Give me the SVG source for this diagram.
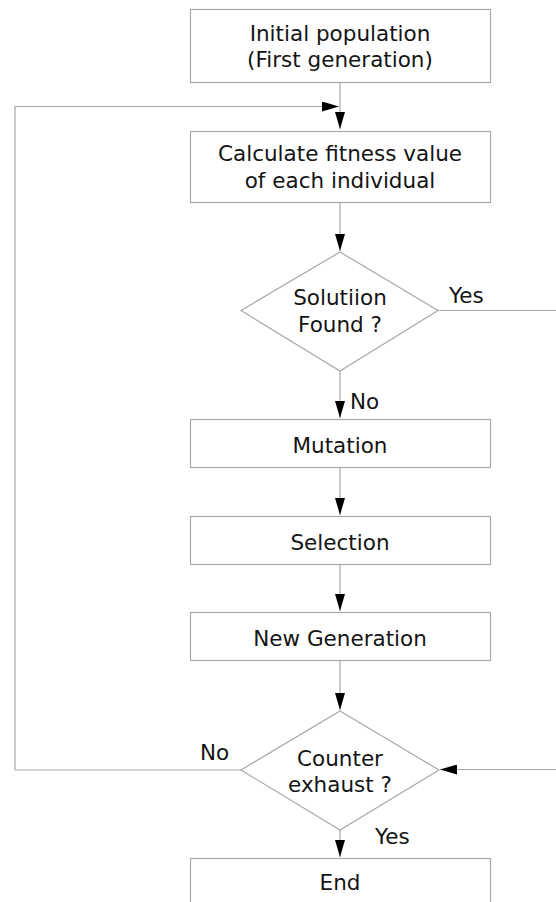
<svg xmlns="http://www.w3.org/2000/svg" width="556" height="902" viewBox="0 0 556 902">
  <style>
    .shape { fill: #ffffff; stroke: #a8a8a8; stroke-width: 1.2; }
    .wire { fill: none; stroke: #a8a8a8; stroke-width: 1.2; }
    .label { font-family: "DejaVu Sans", "Liberation Sans", sans-serif; font-size: 21.5px; fill: #141414; text-anchor: middle; }
    .tag { font-family: "DejaVu Sans", "Liberation Sans", sans-serif; font-size: 21.5px; fill: #141414; }
    .head { fill: #000000; }
  </style>
  <defs>
    <marker id="arrow" viewBox="0 0 17 10" refX="17" refY="5" markerWidth="17" markerHeight="10" markerUnits="userSpaceOnUse" orient="auto">
      <path class="head" d="M0,0 L17,5 L0,10 Z"/>
    </marker>
  </defs>
  <rect width="556" height="902" fill="#ffffff"/>

  <!-- connectors -->
  <g id="connectors">
    <path class="wire" d="M340,82 V129" marker-end="url(#arrow)"/>
    <path class="wire" d="M15,770 V106.5 H339" marker-end="url(#arrow)"/>
    <path class="wire" d="M340,202 V251" marker-end="url(#arrow)"/>
    <path class="wire" d="M438,310.5 H556"/>
    <path class="wire" d="M340,371 V418" marker-end="url(#arrow)"/>
    <path class="wire" d="M340,468 V515" marker-end="url(#arrow)"/>
    <path class="wire" d="M340,564 V611" marker-end="url(#arrow)"/>
    <path class="wire" d="M340,661 V710" marker-end="url(#arrow)"/>
    <path class="wire" d="M241,770 H15"/>
    <path class="wire" d="M556,769.5 H440" marker-end="url(#arrow)"/>
    <path class="wire" d="M340,830 V857" marker-end="url(#arrow)"/>
    <text class="tag" x="449" y="303">Yes</text>
    <text class="tag" x="350" y="409">No</text>
    <text class="tag" x="200" y="760">No</text>
    <text class="tag" x="375" y="844">Yes</text>
  </g>

  <g id="initial-population">
    <rect class="shape" x="190.5" y="9.5" width="300" height="73"/>
    <text class="label" x="340" y="41">Initial population</text>
    <text class="label" x="340" y="67">(First generation)</text>
  </g>

  <g id="fitness">
    <rect class="shape" x="190.5" y="131.5" width="300" height="71"/>
    <text class="label" x="340" y="161">Calculate fitness value</text>
    <text class="label" x="340" y="188">of each individual</text>
  </g>

  <g id="solution-found">
    <polygon class="shape" points="340,252 438,310.5 340,371 241,310.5"/>
    <text class="label" x="340" y="305">Solutiion</text>
    <text class="label" x="340" y="332">Found ?</text>
  </g>

  <g id="mutation">
    <rect class="shape" x="190.5" y="419.5" width="300" height="48"/>
    <text class="label" x="340" y="453">Mutation</text>
  </g>

  <g id="selection">
    <rect class="shape" x="190.5" y="516.5" width="300" height="48"/>
    <text class="label" x="340" y="550">Selection</text>
  </g>

  <g id="new-generation">
    <rect class="shape" x="190.5" y="612.5" width="300" height="48"/>
    <text class="label" x="340" y="646">New Generation</text>
  </g>

  <g id="counter-exhaust">
    <polygon class="shape" points="340,711 439,770 340,830 241,770"/>
    <text class="label" x="340" y="766">Counter</text>
    <text class="label" x="340" y="792">exhaust ?</text>
  </g>

  <g id="end">
    <rect class="shape" x="190.5" y="858.5" width="300" height="60"/>
    <text class="label" x="340" y="890">End</text>
  </g>
</svg>
